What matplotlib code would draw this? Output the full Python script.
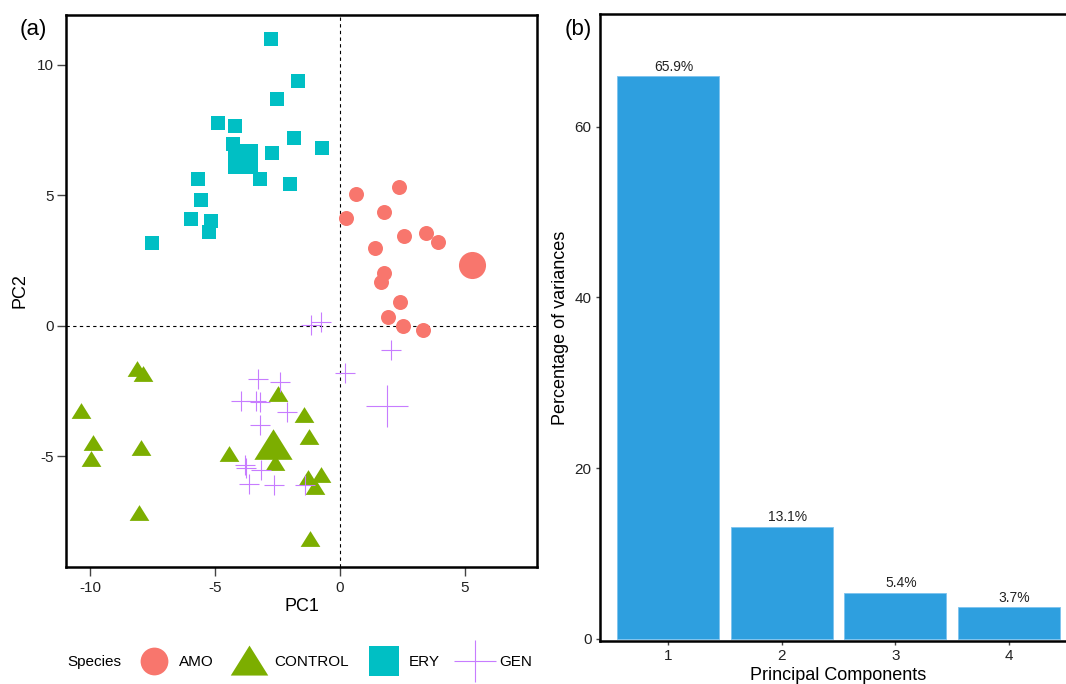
import numpy as np
import matplotlib.pyplot as plt
from matplotlib.lines import Line2D

plt.rcParams['font.family'] = ['Liberation Sans', 'DejaVu Sans']
plt.rcParams['axes.unicode_minus'] = False

# PCA scores
amo_x = [0.63, 2.36, 0.23, 1.77, 2.55, 3.42, 3.90, 1.41, 1.75, 1.64, 2.38, 1.93, 2.51, 3.33]
amo_y = [5.05, 5.30, 4.14, 4.34, 3.43, 3.54, 3.21, 3.00, 2.03, 1.69, 0.90, 0.33, 0.00, -0.15]
amo_big = (5.27, 2.32)

ctl_x = [-8.11, -7.89, -10.37, -9.89, -9.96, -7.97, -8.05, -2.47, -1.44, -1.26, -4.45, -2.60, -1.27, -0.78, -1.00, -1.21]
ctl_y = [-1.65, -1.84, -3.27, -4.49, -5.09, -4.68, -7.15, -2.62, -3.42, -4.24, -4.91, -5.23, -5.82, -5.72, -6.18, -8.16]
ctl_big = (-2.67, -4.56)

ery_x = [-2.77, -1.67, -2.53, -4.89, -4.22, -4.29, -1.85, -0.71, -2.74, -3.19, -2.01, -5.67, -5.55, -5.95, -5.15, -5.26, -7.51]
ery_y = [11.0, 9.39, 8.67, 7.78, 7.64, 6.95, 7.18, 6.81, 6.61, 5.61, 5.42, 5.62, 4.82, 4.11, 4.01, 3.59, 3.19]
ery_big = (-3.90, 6.37)

gen_x = [-1.16, -0.78, 2.05, 0.21, -3.27, -2.40, -3.95, -3.36, -3.19, -2.12, -3.22, -3.79, -3.77, -3.15, -3.66, -2.63, -1.41]
gen_y = [0.03, 0.15, -0.91, -1.80, -2.03, -2.15, -2.89, -2.89, -2.91, -3.29, -3.80, -5.32, -5.44, -5.51, -6.04, -6.08, -6.10]
gen_big = (1.89, -3.06)

# scree values, panel (b)
pcs = [1, 2, 3, 4]
var_pct = [65.9, 13.1, 5.4, 3.7]

col = {'AMO': '#F8766D', 'CONTROL': '#7CAE00', 'ERY': '#00BFC4', 'GEN': '#C77CFF'}
tri = [(0, 0.85), (-1, -0.75), (1, -0.75)]  # ggplot-like squat triangle

fig = plt.figure(figsize=(10.66, 6.84), dpi=100)

# ---- panel a
ax = fig.add_axes([66/1066, 1-567/684, 471/1066, 552/684])
ax.axhline(0, color='black', lw=0.8, ls=(0, (3, 3)), zorder=1)
ax.axvline(0, color='black', lw=0.8, ls=(0, (3, 3)), zorder=1)

ax.plot(amo_x, amo_y, 'o', color=col['AMO'], ms=10.8, mew=0, zorder=3)
ax.plot(*amo_big, 'o', color=col['AMO'], ms=19.5, mew=0, zorder=3)
ax.plot(ctl_x, ctl_y, marker=tri, ls='none', color=col['CONTROL'], ms=14.2, mew=0, zorder=3)
ax.plot(*ctl_big, marker=tri, ls='none', color=col['CONTROL'], ms=27.5, mew=0, zorder=3)
ax.plot(ery_x, ery_y, 's', color=col['ERY'], ms=10.4, mew=0, zorder=3)
ax.plot(*ery_big, 's', color=col['ERY'], ms=21, mew=0, zorder=3)
ax.plot(gen_x, gen_y, '+', color=col['GEN'], ms=15, mew=0.8, zorder=3)
ax.plot(*gen_big, '+', color=col['GEN'], ms=30, mew=0.8, zorder=3)

ax.set_xlim(-10.96, 7.88)
ax.set_ylim(-9.23, 11.9)
ax.set_xticks([-10, -5, 0, 5])
ax.set_yticks([-5, 0, 5, 10])
ax.set_xlabel('PC1', fontsize=13, labelpad=2)
ax.set_ylabel('PC2', fontsize=13, labelpad=6)
for s in ax.spines.values():
    s.set_linewidth(1.8)
ax.tick_params(length=6.5, width=1.0, color='#444444', labelsize=11, labelcolor='#222222')
ax.tick_params(axis='x', pad=3.5)
ax.tick_params(axis='y', pad=2)
fig.text(33/1066, 1-30/684, '(a)', fontsize=16, ha='center', va='center')

# legend
fig.text(67/1066, 1-662/684, 'Species', fontsize=11, va='center')
handles = [
    Line2D([], [], ls='none', marker='o', color=col['AMO'], ms=20, mew=0),
    Line2D([], [], ls='none', marker=tri, color=col['CONTROL'], ms=27, mew=0),
    Line2D([], [], ls='none', marker='s', color=col['ERY'], ms=21, mew=0),
    Line2D([], [], ls='none', marker='+', color=col['GEN'], ms=30, mew=0.8),
]
fig.legend(handles, ['AMO', 'CONTROL', 'ERY', 'GEN'], loc='center left',
           bbox_to_anchor=(139/1066, 1-662/684), ncol=4, frameon=False,
           fontsize=11, handlelength=2.0, handletextpad=0.63, columnspacing=1.3,
           borderaxespad=0, borderpad=0)

# ---- panel b
bx = fig.add_axes([600/1066, 1-641/684, 477/1066, 627/684])
bars = bx.bar(pcs, var_pct, width=0.9, color='#2E9FDF', edgecolor='#7cc3ee', linewidth=0.6)
for x, v in zip(pcs, var_pct):
    bx.text(x + 0.05, v + 0.3, f'{v}%', ha='center', va='bottom', fontsize=10, color='#222222')
bx.set_xlim(0.4, 4.6)
bx.set_ylim(-0.25, 73.2)
bx.set_xticks(pcs)
bx.set_yticks([0, 20, 40, 60])
bx.set_xlabel('Principal Components', fontsize=13, labelpad=2.5)
bx.set_ylabel('Percentage of variances', fontsize=13, labelpad=4)
for s in bx.spines.values():
    s.set_linewidth(1.8)
bx.tick_params(length=3, width=1.0, color='#444444', labelsize=11, labelcolor='#222222', pad=3)
fig.text(578/1066, 1-30/684, '(b)', fontsize=16, ha='center', va='center')

fig.savefig('out.png', dpi=100)
